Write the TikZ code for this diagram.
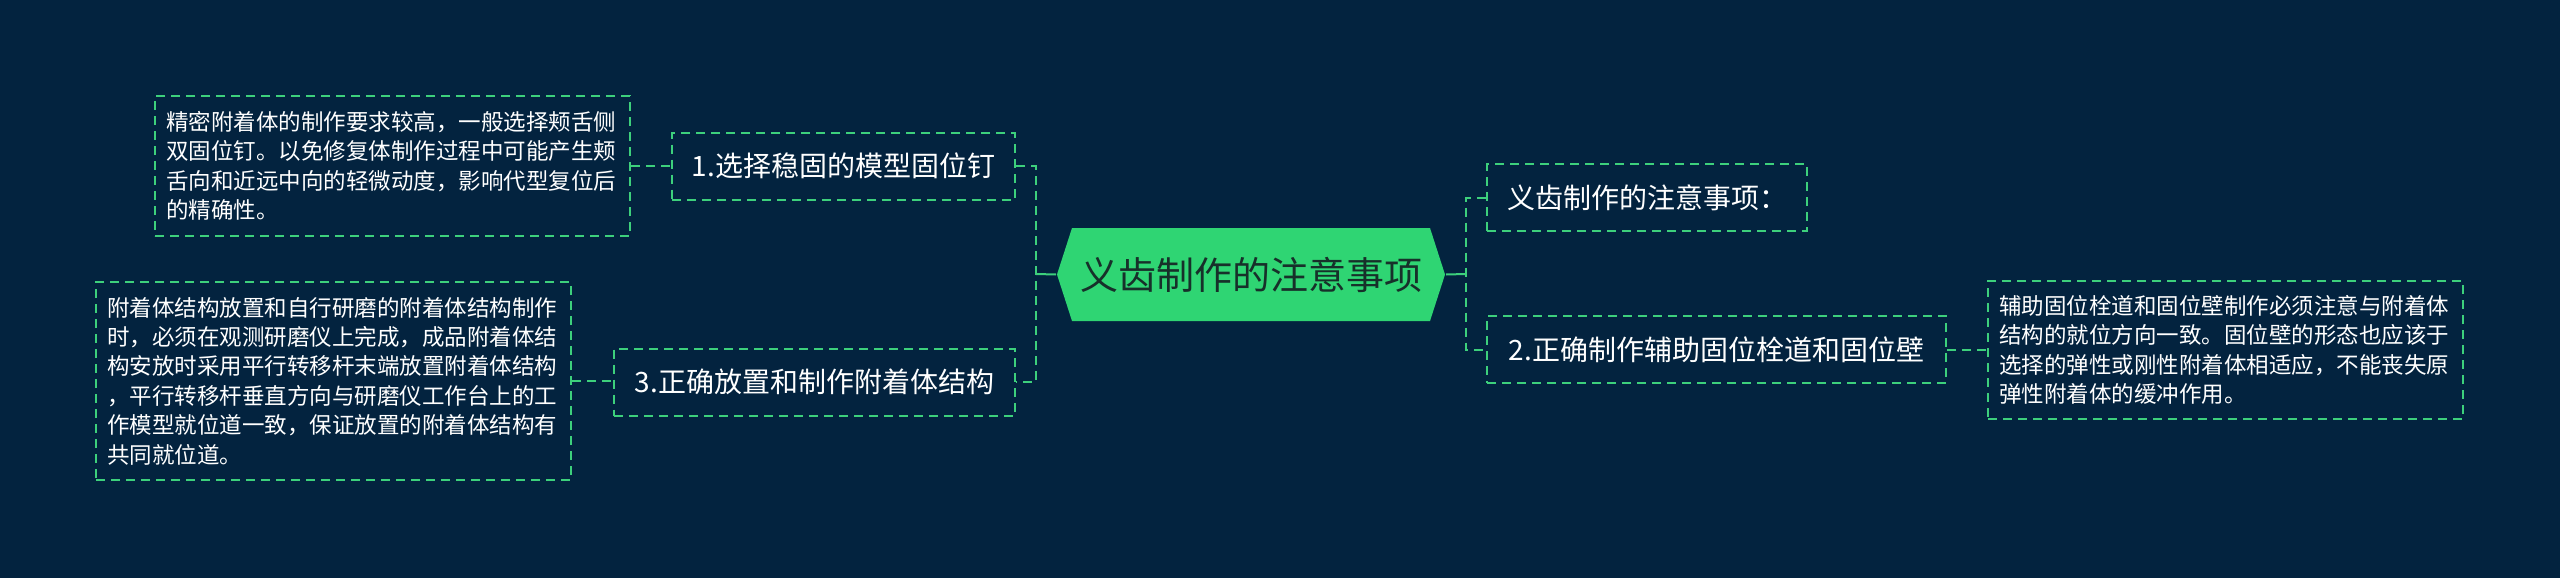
\documentclass[tikz,border=0pt]{standalone}
\usepackage{fontspec}
\setmainfont{Noto Sans CJK SC}
\definecolor{bg}{HTML}{03233F}
\definecolor{lk}{HTML}{3DD07C}
\definecolor{hub}{HTML}{2FD573}
\definecolor{hubtext}{HTML}{17302A}
\tikzset{every picture/.style={line width=2pt},
	dsh/.style={dash pattern=on 9pt off 6pt},
	lnk/.style={draw=lk,dsh},
	topic/.style={draw=lk,dsh,text=white,font=\fontsize{28}{34}\selectfont,minimum height=67pt,inner sep=0pt},
	memo/.style={draw=lk,dsh,text=white,font=\fontsize{22.5}{29.4}\selectfont,text width=453pt,align=left,inner sep=11pt},
	hubnode/.style={minimum width=388pt,minimum height=93pt,inner sep=0pt,text=hubtext,font=\fontsize{38}{44}\selectfont,
		path picture={\fill[hub] ([xshift=15pt]path picture bounding box.north west)--([xshift=-15pt]path picture bounding box.north east)
			--(path picture bounding box.east)--([xshift=-15pt]path picture bounding box.south east)
			--([xshift=15pt]path picture bounding box.south west)--(path picture bounding box.west)--cycle;}},
}

\begin{document}
\begin{tikzpicture}[x=1pt,y=-1pt]
	\fill[bg] (0,0) rectangle (2560,578); %背景
	\useasboundingbox (0,0) rectangle (2560,578);
	\node[hubnode] (c) at (1251,274.5) {义齿制作的注意事项}; %中心
	% 左側
	\node[topic,minimum width=343pt] (t1) at (843.5,166) {1.选择稳固的模型固位钉};
	\node[topic,minimum width=401pt] (t3) at (814.5,382) {3.正确放置和制作附着体结构};
	\node[memo,minimum height=140pt] (m1) at (392.5,166) {精密附着体的制作要求较高，一般选择颊舌侧\\双固位钉。以免修复体制作过程中可能产生颊\\舌向和近远中向的轻微动度，影响代型复位后\\的精确性。};
	\node[memo,minimum height=198pt] (m3) at (333.5,381) {附着体结构放置和自行研磨的附着体结构制作\\时，必须在观测研磨仪上完成，成品附着体结\\构安放时采用平行转移杆末端放置附着体结构\\，平行转移杆垂直方向与研磨仪工作台上的工\\作模型就位道一致，保证放置的附着体结构有\\共同就位道。};
	% 右側
	\node[topic,minimum width=320pt] (r1) at (1647,197.5) {义齿制作的注意事项：};
	\node[topic,minimum width=459pt] (t2) at (1716.5,349.5) {2.正确制作辅助固位栓道和固位壁};
	\node[memo,minimum height=138pt] (m2) at (2225.5,350) {辅助固位栓道和固位壁制作必须注意与附着体\\结构的就位方向一致。固位壁的形态也应该于\\选择的弹性或刚性附着体相适应，不能丧失原\\弹性附着体的缓冲作用。};
	% 接続
	\coordinate (jl) at (1036,274);
	\coordinate (jr) at (1466,274);
	\draw[lk] (c.west)--(jl);
	\draw[lk] (c.east)--(jr);
	\draw[lnk] (t1.east)-|(jl)|-(t3.east);
	\draw[lnk] (r1.west)-|(jr)|-(t2.west);
	\draw[lnk] (m1.east)--(t1.west);
	\draw[lnk] (m3.east)--(m3.east-|t3.west);
	\draw[lnk] (t2.east)--(t2.east-|m2.west);
\end{tikzpicture}
\end{document}
